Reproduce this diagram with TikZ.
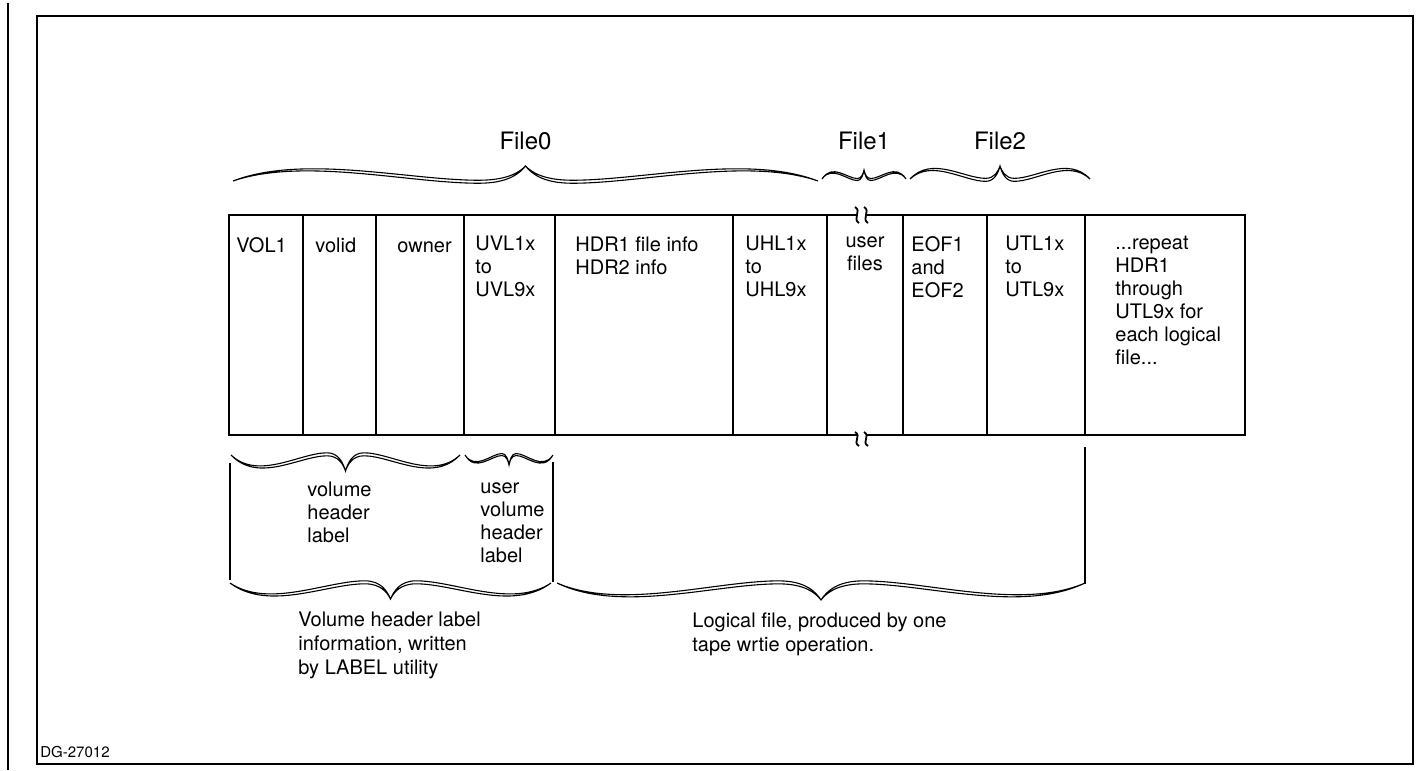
\documentclass[tikz,border=0pt]{standalone}
\usepackage{fontspec}
\setmainfont{TeX Gyre Heros}
\usetikzlibrary{positioning,calc}
\tikzset{
  % Tape block: fixed width, full height
  cell/.style={
    rectangle, draw, line width=0.7pt,
    minimum width=#1, minimum height=110pt,
    inner sep=0pt, outer sep=0pt
  },
  % Text in and under the tape
  ctext/.style={
    anchor=north west, align=left, inner sep=0pt,
    font=\fontsize{10}{11.5}\selectfont,
    execute at begin node=\strut
  },
  % File names over the braces
  flabel/.style={anchor=base, inner sep=0pt, font=\fontsize{12}{14}\selectfont},
  % Pen brace: #1 tip height, #2 stroke spread
  brc/.style 2 args={
    to path={
      .. controls ($(\tikztostart)!0.12!(\tikztotarget)+(0,{1.8*(#1)+(#2)})$)
              and ($(\tikztostart)!0.30!(\tikztotarget)+(0,{0.05*(#1)+(#2)})$)
      .. ($(\tikztostart)!0.42!(\tikztotarget)+(0,{0.05*(#1)+(#2)})$)
      .. controls ($(\tikztostart)!0.47!(\tikztotarget)+(0,{0.05*(#1)+(#2)})$)
              and ($(\tikztostart)!0.49!(\tikztotarget)+(0,{0.6*(#1)+0.5*(#2)})$)
      .. ($(\tikztostart)!0.50!(\tikztotarget)+(0,#1)$)
      .. controls ($(\tikztostart)!0.51!(\tikztotarget)+(0,{0.6*(#1)+0.5*(#2)})$)
              and ($(\tikztostart)!0.53!(\tikztotarget)+(0,{0.05*(#1)+(#2)})$)
      .. ($(\tikztostart)!0.58!(\tikztotarget)+(0,{0.05*(#1)+(#2)})$)
      .. controls ($(\tikztostart)!0.70!(\tikztotarget)+(0,{0.05*(#1)+(#2)})$)
              and ($(\tikztostart)!0.88!(\tikztotarget)+(0,{1.8*(#1)+(#2)})$)
      .. (\tikztotarget)
    }
  },
  % Thin pen line
  pen/.style={line width=0.55pt},
  % Break mark on the tape edge
  brk/.style={line width=0.9pt}
}
\begin{document}
\begin{tikzpicture}[x=0.5pt, y=-0.5pt]
  \useasboundingbox (0,0) rectangle (1416,770);
  \draw[line width=0.9pt] (8,3) -- (8,770);
  \draw[line width=0.7pt] (37,16) rectangle (1413,764);

  % the tape
  \node[cell=37pt, anchor=north west] (vol) at (229,215) {};
  \node[cell=36.5pt, right=0pt of vol]   (volid) {};
  \node[cell=44pt,   right=0pt of volid] (own)   {};
  \node[cell=45.5pt, right=0pt of own]   (uvl)   {};
  \node[cell=89pt,   right=0pt of uvl]   (hdr)   {};
  \node[cell=47pt,   right=0pt of hdr]   (uhl)   {};
  \node[cell=38pt,   right=0pt of uhl]   (usr)   {};
  \node[cell=42pt,   right=0pt of usr]   (eof)   {};
  \node[cell=49pt,   right=0pt of eof]   (utl)   {};
  \node[cell=80pt,   right=0pt of utl]   (rep)   {};
  \draw[line width=1.1pt] (vol.north west) rectangle (rep.south east);

  \node[ctext] (tvol)   at ([shift={(7,21)}]vol.north west)   {VOL1};
  \node[ctext] (tvolid) at ([shift={(12,21)}]volid.north west) {volid};
  \node[ctext] (town)   at ([shift={(21,21)}]own.north west)   {owner};
  \node[ctext] (tuvl)   at ([shift={(11,21)}]uvl.north west)   {UVL1x\\to\\UVL9x};
  \node[ctext] (thdr)   at ([shift={(20,21)}]hdr.north west)   {HDR1 file info\\HDR2 info};
  \node[ctext] (tuhl)   at ([shift={(12,21)}]uhl.north west)   {UHL1x\\to\\UHL9x};
  \node[ctext, anchor=north, align=center] (tusr) at ([shift={(0,21)}]usr.north) {user\\files};
  \node[ctext] (teof)   at ([shift={(8,21)}]eof.north west)   {EOF1\\and\\EOF2};
  \node[ctext] (tutl)   at ([shift={(18,21)}]utl.north west)   {UTL1x\\to\\UTL9x};
  \node[ctext] (trep)   at ([shift={(30,21)}]rep.north west)   {...repeat\\HDR1\\through\\UTL9x for\\each logical\\file...};

  % break marks
  \fill[white] ([shift={(-8,-3)}]usr.north) rectangle ([shift={(1,3)}]usr.north);
  \fill[white] ([shift={(-8,-3)}]usr.south) rectangle ([shift={(1,3)}]usr.south);
  \foreach \dx in {-8,1} {
    \draw[brk] ([shift={(\dx-2,-8)}]usr.north) .. controls +(7,4) and +(-7,-4) .. ([shift={(\dx+2,8)}]usr.north);
    \draw[brk] ([shift={(\dx-2,-3)}]usr.south) .. controls +(7,4) and +(-7,-4) .. ([shift={(\dx+2,11)}]usr.south);
  }

  % file braces
  \coordinate (f0a) at ([shift={(4,-34)}]vol.north west);
  \coordinate (f0b) at ([shift={(-9,-34)}]usr.north west);
  \coordinate (f1a) at ([shift={(-5,-36)}]usr.north west);
  \coordinate (f1b) at ([shift={(3,-36)}]usr.north east);
  \coordinate (f2a) at ([shift={(7,-36)}]eof.north west);
  \coordinate (f2b) at ([shift={(5,-36)}]utl.north east);
  \draw[pen] (f0a) to[brc={-15}{0}] (f0b) (f0a) to[brc={-15}{3}] (f0b);
  \draw[pen] (f1a) to[brc={-9}{0}] (f1b) (f1a) to[brc={-9}{2}] (f1b);
  \draw[pen] (f2a) to[brc={-13}{0}] (f2b) (f2a) to[brc={-13}{3}] (f2b);
  \node[flabel] (file0) at ($(f0a)!0.5!(f0b)+(0,-31)$) {File0};
  \node[flabel] (file1) at ($(f1a)!0.5!(f1b)+(0,-29)$) {File1};
  \node[flabel] (file2) at ($(f2a)!0.5!(f2b)+(0,-29)$) {File2};

  % label braces under the tape
  \coordinate (v1a) at ([shift={(2,20)}]vol.south west);
  \coordinate (v1b) at ([shift={(-4,20)}]uvl.south west);
  \coordinate (v2a) at ([shift={(1,20)}]uvl.south west);
  \coordinate (v2b) at ([shift={(-2,20)}]uvl.south east);
  \draw[pen] (v1a) to[brc={16}{0}] (v1b) (v1a) to[brc={16}{-3}] (v1b);
  \draw[pen] (v2a) to[brc={10}{0}] (v2b) (v2a) to[brc={10}{-2}] (v2b);
  \draw[pen] ([shift={(1,28)}]vol.south west) -- ([shift={(1,145)}]vol.south west);
  \draw[pen] ([shift={(-2,27)}]uvl.south east) -- ([shift={(-2,147)}]uvl.south east);
  \draw[pen] ([shift={(0,12)}]utl.south east) -- ([shift={(0,149)}]utl.south east);
  \node[ctext] (tvhl) at ([shift={(4,47)}]volid.south west) {volume\\header\\label};
  \node[ctext] (tuvh) at ([shift={(16,47)}]uvl.south west) {user\\volume\\header\\label};

  \coordinate (l1a) at ([shift={(1,148)}]vol.south west);
  \coordinate (l1b) at ([shift={(-4,148)}]uvl.south east);
  \coordinate (l2a) at ([shift={(2,148)}]hdr.south west);
  \coordinate (l2b) at ([shift={(0,148)}]utl.south east);
  \draw[pen] (l1a) to[brc={16}{0}] (l1b) (l1a) to[brc={16}{-3}] (l1b);
  \draw[pen] (l2a) to[brc={17}{0}] (l2b) (l2a) to[brc={17}{-3}] (l2b);
  \node[ctext, font=\fontsize{10}{12}\selectfont] (tvol2) at ([shift={(-5,177)}]volid.south west) {Volume header label\\information, written\\by LABEL utility};
  \node[ctext, font=\fontsize{10}{12}\selectfont] (tlog)  at ([shift={(137,177)}]hdr.south west) {Logical file, produced by one\\tape wrtie operation.};

  \node[anchor=base west, inner sep=0pt, font=\fontsize{7.5}{9}\selectfont] (dg) at (40,757) {DG-27012};
\end{tikzpicture}
\end{document}
